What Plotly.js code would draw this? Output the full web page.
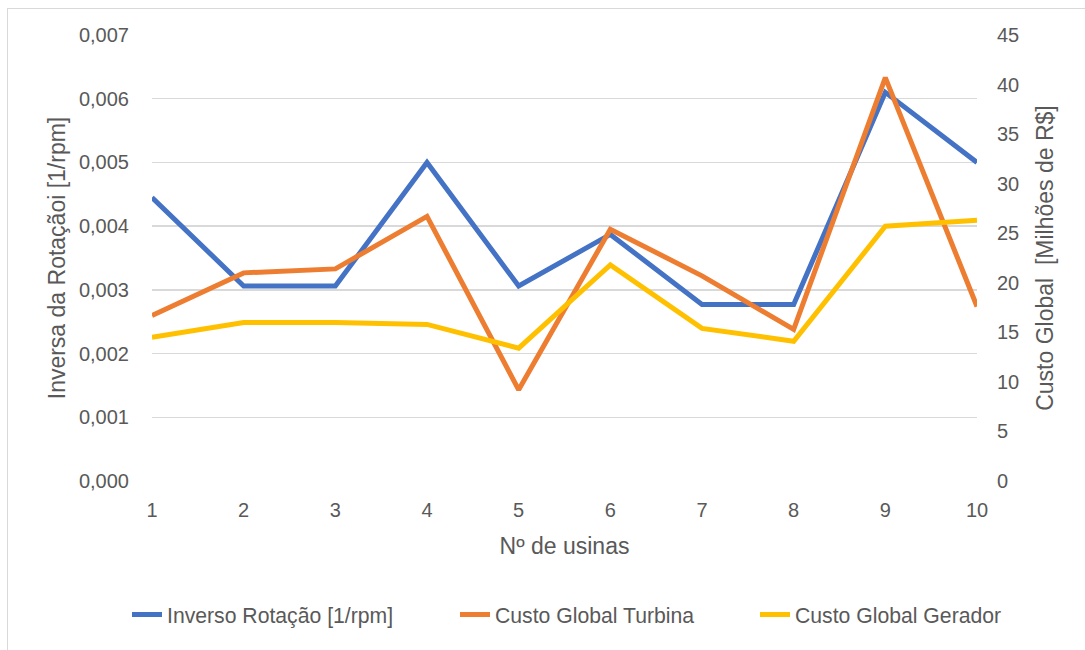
<!DOCTYPE html>
<html>
<head>
<meta charset="utf-8">
<script src="https://cdn.plot.ly/plotly-3.0.1.min.js"></script>
<style>
  html, body { margin: 0; padding: 0; background: #ffffff; }
  #chart { width: 1085px; height: 650px; }
  #frame { position: absolute; left: 7px; top: 8px; width: 1090px; height: 660px; border: 1px solid #d9d9d9; pointer-events: none; }
</style>
</head>
<body>
<div id="chart"></div>
<div id="frame"></div>
<script>
const usinas = [1, 2, 3, 4, 5, 6, 7, 8, 9, 10];
const inversoRotacao = [0.00445, 0.00306, 0.00306, 0.0050, 0.00306, 0.00387, 0.00277, 0.00277, 0.0061, 0.0050];
const custoTurbina = [16.7, 21.0, 21.4, 26.7, 9.2, 25.4, 20.7, 15.3, 40.7, 17.6];
const custoGerador = [14.5, 16.0, 16.0, 15.8, 13.4, 21.8, 15.4, 14.1, 25.7, 26.3];

const seriesNames = ['Inverso Rotação [1/rpm]', 'Custo Global Turbina', 'Custo Global Gerador'];
const colors = ['#4472C4', '#ED7D31', '#FFC000'];

const fontFam = '"Liberation Sans", Arial, sans-serif';
const gray = '#595959';
const fs = 20;
const titleFs = 23;
const legendFs = 21.2;

const traces = [
  { x: usinas, y: inversoRotacao, name: seriesNames[0], type: 'scatter', mode: 'lines',
    line: { color: colors[0], width: 5 }, yaxis: 'y', legend: 'legend' },
  { x: usinas, y: custoTurbina, name: seriesNames[1], type: 'scatter', mode: 'lines',
    line: { color: colors[1], width: 5 }, yaxis: 'y2', legend: 'legend2' },
  { x: usinas, y: custoGerador, name: seriesNames[2], type: 'scatter', mode: 'lines',
    line: { color: colors[2], width: 5 }, yaxis: 'y2', legend: 'legend3' }
];

function leg(xPx) {
  return { orientation: 'h', x: (xPx - 152) / 825, xanchor: 'left', y: -0.30, yanchor: 'middle',
           bgcolor: 'rgba(0,0,0,0)', font: { family: fontFam, size: legendFs, color: gray } };
}

const layout = {
  width: 1085, height: 650,
  margin: { l: 152, r: 108, t: 35, b: 169 },
  paper_bgcolor: '#ffffff', plot_bgcolor: '#ffffff',
  separators: ',.',
  font: { family: fontFam, size: fs, color: gray },
  showlegend: true,
  legend: leg(127),
  legend2: leg(455),
  legend3: leg(755),
  xaxis: {
    range: [1, 10], tickvals: usinas, ticktext: usinas.map(String),
    showgrid: false, zeroline: false, showline: false, ticks: '',
    ticklabelstandoff: 15,
    tickfont: { family: fontFam, size: fs, color: gray },
    title: { text: 'Nº de usinas', font: { family: fontFam, size: titleFs, color: gray }, standoff: 17 }
  },
  yaxis: {
    range: [0, 0.007], dtick: 0.001, tickformat: '.3f',
    showgrid: true, gridcolor: '#d9d9d9', gridwidth: 1.3,
    zeroline: false, showline: false, ticks: '',
    ticklabelstandoff: 22,
    tickfont: { family: fontFam, size: fs, color: gray },
    title: { text: 'Inversa da Rotaçãoi [1/rpm]', font: { family: fontFam, size: titleFs, color: gray }, standoff: 6 }
  },
  yaxis2: {
    overlaying: 'y', side: 'right',
    range: [0, 45], dtick: 5,
    showgrid: false, zeroline: false, showline: false, ticks: '',
    ticklabelstandoff: 19,
    tickfont: { family: fontFam, size: fs, color: gray },
    title: { text: 'Custo Global  [Milhões de R$]', font: { family: fontFam, size: titleFs, color: gray }, standoff: 18 }
  }
};

Plotly.newPlot('chart', traces, layout, { displayModeBar: false, staticPlot: true });
</script>
</body>
</html>
